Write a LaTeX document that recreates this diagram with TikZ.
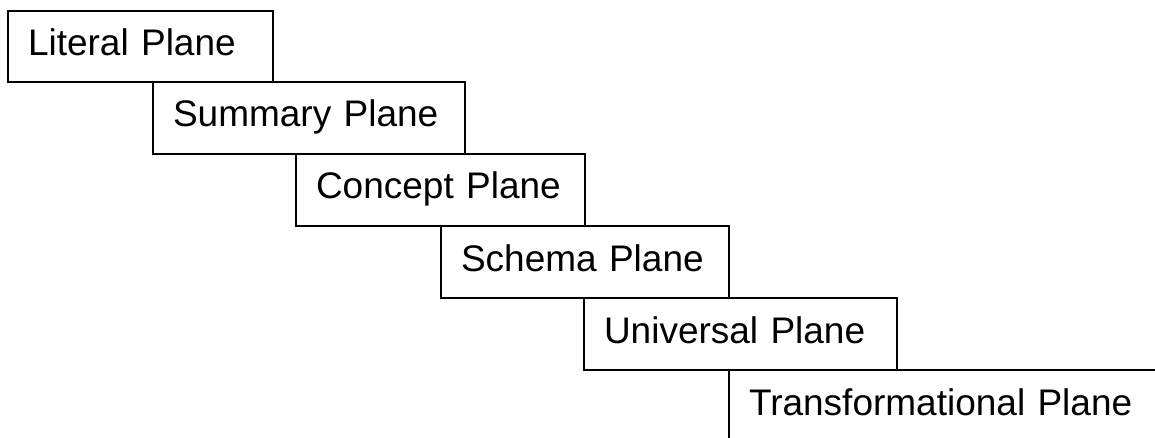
\documentclass[tikz,border=0pt]{standalone}
\usepackage{fontspec}
\setmainfont{Liberation Sans}
\begin{document}
\begin{tikzpicture}[x=1pt,y=1pt,
  plane/.style={draw, line width=1.8pt, rectangle, anchor=north west,
    inner xsep=20pt, inner ysep=0pt, outer sep=0pt,
    text height=45pt, text depth=27pt, align=left,
    font=\fontsize{37}{44}\selectfont}]
\useasboundingbox (0,0) rectangle (1155,-438);
\clip (0,0) rectangle (1155,-438);
\node[plane, text width=225pt, text depth=26pt] (p1) at (8,-11) {Literal Plane};
\node[plane, text width=272pt] (p2) at (153,-82) {Summary Plane};
\node[plane, text width=249pt] (p3) at (296,-154) {Concept Plane};
\node[plane, text width=248pt] (p4) at (441,-226) {Schema Plane};
\node[plane, text width=273pt] (p5) at (584,-298) {Universal Plane};
\node[plane, text width=420pt] (p6) at (729,-370) {Transformational Plane};
\end{tikzpicture}
\end{document}
